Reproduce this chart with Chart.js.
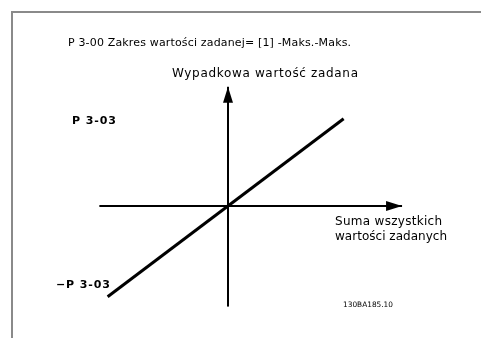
<!DOCTYPE html>
<html>
<head>
<meta charset="utf-8">
<script src="https://cdn.jsdelivr.net/npm/chart.js@4/dist/chart.umd.min.js"></script>
<style>
  body { margin: 0; background: #fff; }
  #wrap { position: relative; width: 481px; height: 338px; overflow: hidden; }
  #frame {
    position: absolute; left: 11px; top: 11px; right: -10px; bottom: -10px;
    border-top: 2px solid #8a8a8a; border-left: 2px solid #8a8a8a;
  }
  canvas { position: absolute; left: 0; top: 0; }
</style>
</head>
<body>
<div id="wrap">
  <canvas id="chart" width="481" height="338"></canvas>
  <div id="frame"></div>
</div>
<script>
// Reference line: resulting reference follows the sum of references (units of P 3-03)
const sumValues = [-1.02, 0.98];
const refValues = [-1.02, 0.98];

// Extents of the drawn axes (with arrow at the end)
const xAxisExtent = [-1.09, 1.475];
const yAxisExtent = [-1.13, 1.34];

// Visible window of the scales
const xWindow = [-1.932, 2.144];
const yWindow = [-1.483, 2.315];

// Texts
const titleText = "P 3-00 Zakres wartości zadanej= [1] -Maks.-Maks.";
const yAxisTitle = "Wypadkowa wartość zadana";
const xAxisTitle = ["Suma wszystkich", "wartości zadanych"];
const tickLabels = ["P 3-03", "−P 3-03"];
const tickValues = [1, -1];
const figureCode = "130BA185.10";

function pairs(xs, ys) {
  return xs.map((x, i) => ({ x: x, y: ys[i] }));
}

// draw text spread out so it spans the given width
function fitText(ctx, text, x, y, width) {
  ctx.save();
  const w = ctx.measureText(text).width;
  if ("letterSpacing" in ctx && width > w) {
    ctx.letterSpacing = ((width - w) / (text.length - 1)).toFixed(2) + "px";
    ctx.fillText(text, x, y);
  } else {
    ctx.translate(x, y);
    ctx.scale(width / w, 1);
    ctx.fillText(text, 0, 0);
  }
  ctx.restore();
}

// Draws arrowheads on axis datasets and the texts
const diagramPlugin = {
  id: "diagram",
  afterDatasetsDraw(chart) {
    const ctx = chart.ctx;
    const ys = chart.scales.y;

    chart.data.datasets.forEach((ds, i) => {
      if (!ds.arrow) return;
      const pts = chart.getDatasetMeta(i).data;
      const a = pts[pts.length - 2];
      const b = pts[pts.length - 1];
      const ang = Math.atan2(b.y - a.y, b.x - a.x);
      const len = 16, half = 5;
      ctx.save();
      ctx.translate(b.x, b.y);
      ctx.rotate(ang);
      ctx.beginPath();
      ctx.moveTo(0, 0);
      ctx.lineTo(-len, -half);
      ctx.lineTo(-len, half);
      ctx.closePath();
      ctx.fillStyle = "#000";
      ctx.fill();
      ctx.restore();
    });

    ctx.save();
    ctx.fillStyle = "#000";
    ctx.textBaseline = "middle";
    ctx.textAlign = "left";

    ctx.font = "11px 'DejaVu Sans'";
    fitText(ctx, titleText, 68, 43, 283);
    ctx.font = "12px 'DejaVu Sans'";
    fitText(ctx, yAxisTitle, 172, 74, 186);
    fitText(ctx, xAxisTitle[0], 335, 222, 107);
    fitText(ctx, xAxisTitle[1], 335, 237, 112);

    ctx.font = "bold 11px 'DejaVu Sans'";
    fitText(ctx, tickLabels[0], 72, ys.getPixelForValue(tickValues[0]) + 4, 44);
    fitText(ctx, tickLabels[1], 56, ys.getPixelForValue(tickValues[1]) - 10, 54);

    ctx.font = "7.5px 'DejaVu Sans'";
    fitText(ctx, figureCode, 343, 305, 50);
    ctx.restore();
  }
};

new Chart(document.getElementById("chart"), {
  type: "scatter",
  data: {
    datasets: [
      {
        data: pairs(xAxisExtent, [0, 0]),
        showLine: true, borderColor: "#000", borderWidth: 2, pointRadius: 0, arrow: true
      },
      {
        data: pairs([0, 0], yAxisExtent),
        showLine: true, borderColor: "#000", borderWidth: 2, pointRadius: 0, arrow: true
      },
      {
        data: pairs(sumValues, refValues),
        showLine: true, borderColor: "#000", borderWidth: 3, pointRadius: 0
      }
    ]
  },
  options: {
    responsive: false,
    animation: false,
    layout: { padding: 0 },
    plugins: { legend: { display: false }, tooltip: { enabled: false } },
    scales: {
      x: { type: "linear", display: false, min: xWindow[0], max: xWindow[1] },
      y: { type: "linear", display: false, min: yWindow[0], max: yWindow[1] }
    }
  },
  plugins: [diagramPlugin]
});
</script>
</body>
</html>
